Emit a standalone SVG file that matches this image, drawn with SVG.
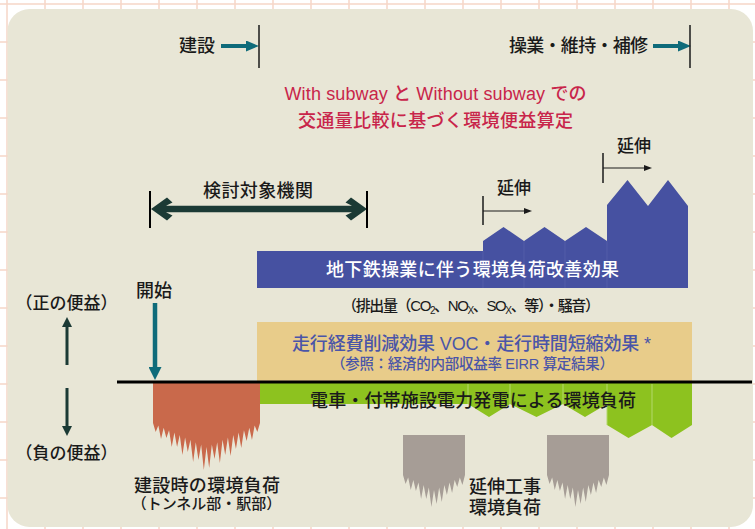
<svg xmlns="http://www.w3.org/2000/svg" width="755" height="529" viewBox="0 0 755 529">
<style>
text{font-family:"Liberation Sans","Noto Sans CJK JP",sans-serif;fill:#1a1a1a;font-weight:500}
.t18{font-size:18px}
.t17{font-size:17px}
.t15{font-size:15px}
.red{fill:#c8254a;font-size:18px}
.pur{fill:#4a55a8}
.wht{fill:#ffffff}
.grid{stroke:#f6d6c8;stroke-width:1.5}
.sep{stroke:#5660ab;stroke-width:0.8}
.gsep{stroke:#b4d86c;stroke-width:1}
.tick{stroke:#1a1a1a;stroke-width:1.5}
</style>
<defs>
<marker id="hTeal" markerUnits="userSpaceOnUse" markerWidth="13" markerHeight="11" refX="0" refY="5.5" orient="auto"><path d="M0,0 L13,5.5 L0,11 z" fill="#0e6b7a"/></marker>
<marker id="hTealV" markerUnits="userSpaceOnUse" markerWidth="13" markerHeight="13" refX="0" refY="6.5" orient="auto"><path d="M0,0 L13,6.5 L0,13 z" fill="#0e6b7a"/></marker>
<marker id="hDark" markerUnits="userSpaceOnUse" markerWidth="10" markerHeight="10" refX="0" refY="5" orient="auto"><path d="M0,0 L10,5 L0,10 z" fill="#1b3a35"/></marker>
<marker id="hSmall" markerUnits="userSpaceOnUse" markerWidth="8" markerHeight="6" refX="0" refY="3" orient="auto"><path d="M0,0 L8,3 L0,6 z" fill="#1a1a1a"/></marker>
<path id="grayFringe" fill="#a69d96" d="M403,435 V475 l2.583,9 l2.583,-6.5 l2.583,12.5 l2.583,-10 l2.583,11 l2.583,-8.5 l2.583,16.5 l2.583,-14 l2.583,14 l2.583,-11.5 l2.583,19.5 l2.583,-17 l2.583,14 l2.583,-16.5 l2.583,14.5 l2.583,-17 l2.583,10 l2.583,-12.5 l2.583,10.5 l2.583,-13 l2.583,7 l2.583,-9.5 l2.583,7.5 l2.583,-10 V435 Z"/>
</defs>

<g id="background">
<rect width="755" height="529" fill="#ffffff"/>
<g class="grid">
<path d="M7,0V529M45,0V529M83,0V529M121,0V529M159,0V529M197,0V529M235,0V529M273,0V529M311,0V529M349,0V529M387,0V529M425,0V529M463,0V529M501,0V529M539,0V529M577,0V529M615,0V529M653,0V529M691,0V529M729,0V529"/>
<path d="M0,4H755M0,42H755M0,80H755M0,118H755M0,156H755M0,194H755M0,232H755M0,270H755M0,308H755M0,346H755M0,384H755M0,422H755M0,460H755M0,498H755"/>
</g>
<rect x="7.5" y="9" width="745.5" height="518" rx="22" fill="#e8e6d6"/>
</g>

<g id="improvement-band">
<path fill="#4651a1" d="M257,251 H483 V241 L503.5,227 L524,241 L544.5,227 L565,241 L586,227 L607,241 V205 L627.5,180 L648,206 L668,180 L688,206 V288 H257 Z"/>
<path class="sep" d="M483,251V288M524,241V288M565,241V288M607,241V288"/>
<text class="t18 wht" x="472.5" y="276" text-anchor="middle" textLength="293">地下鉄操業に伴う環境負荷改善効果</text>
<text class="t15" x="471" y="311" text-anchor="middle" textLength="258">（排出量（CO<tspan font-size="10" dy="3">2</tspan><tspan dy="-3">、NO</tspan><tspan font-size="10" dy="3">X</tspan><tspan dy="-3">、SO</tspan><tspan font-size="10" dy="3">X</tspan><tspan dy="-3">、等）・騒音）</tspan></text>
</g>

<g id="cost-band">
<rect x="257" y="322" width="435" height="59" fill="#e8cc8a"/>
<text class="t18 pur" x="471.5" y="350" text-anchor="middle" textLength="359">走行経費削減効果 VOC・走行時間短縮効果 *</text>
<text class="pur" font-size="14.5" x="472.5" y="369" text-anchor="middle" textLength="283">（参照：経済的内部収益率 EIRR 算定結果）</text>
</g>

<g id="power-band">
<path fill="#8dc21f" d="M260,383 H692 V425 L671.5,438 L652,425 L628.5,438 L607,425 V404 L585,417 L563,404 L536.5,417 L510,404 L489,417 L468,404 H260 Z"/>
<path class="gsep" d="M468,384V404M510,384V404M563,384V404M607,384V425M652,384V425"/>
</g>

<g id="construction-load">
<path fill="#c9694b" d="M153,383 V423 l2.675,9 l2.675,-6.6 l2.675,13.6 l2.675,-11.2 l2.675,10.2 l2.675,-7.8 l2.675,16.8 l2.675,-14.4 l2.675,14.4 l2.675,-12 l2.675,20 l2.675,-17.6 l2.675,14.6 l2.675,-12.2 l2.675,22.2 l2.675,-19.8 l2.675,17.8 l2.675,-15.4 l2.675,25.4 l2.675,-23 l2.675,21 l2.675,-23.4 l2.675,14.4 l2.675,-16.8 l2.675,20.8 l2.675,-23.2 l2.675,15.2 l2.675,-17.6 l2.675,18.6 l2.675,-21 l2.675,14 l2.675,-16.4 l2.675,15.4 l2.675,-17.8 l2.675,10.8 l2.675,-13.2 l2.675,12.2 l2.675,-14.6 l2.675,6.6 l2.675,-9 V383 Z"/>
<text class="t18" x="207" y="492" text-anchor="middle" textLength="146">建設時の環境負荷</text>
<text class="t15" x="206.5" y="509" text-anchor="middle">（トンネル部・駅部）</text>
</g>

<g id="extension-load">
<use href="#grayFringe"/>
<use href="#grayFringe" x="144"/>
<text class="t18" x="469" y="493">延伸工事</text>
<text class="t18" x="469" y="514">環境負荷</text>
</g>

<g id="axis-line">
<line x1="117" y1="382" x2="752" y2="382" stroke="#000" stroke-width="3"/>
</g>

<g id="phase-labels">
<text class="t18" font-size="17.5" x="179" y="52">建設</text>
<text class="t18" font-size="17.5" x="509" y="52" textLength="139">操業・維持・補修</text>
<text class="red" x="435.5" y="100" text-anchor="middle" textLength="302">With subway と Without subway での</text>
<text class="red" x="435.5" y="127" text-anchor="middle" textLength="275">交通量比較に基づく環境便益算定</text>
<text class="t17" x="617" y="152">延伸</text>
<text class="t17" x="497" y="194">延伸</text>
<text class="t18" x="258" y="197" text-anchor="middle" textLength="110">検討対象機関</text>
<text class="t18" x="136" y="297">開始</text>
<text class="t17" x="66.5" y="309" text-anchor="middle">（正の便益）</text>
<text class="t17" x="66.5" y="459" text-anchor="middle">（負の便益）</text>
</g>

<g id="connectors">
<line x1="221" y1="46" x2="246" y2="46" stroke="#0e6b7a" stroke-width="4" marker-end="url(#hTeal)"/>
<line class="tick" x1="259" y1="25" x2="259" y2="68"/>
<line x1="653" y1="46" x2="678" y2="46" stroke="#0e6b7a" stroke-width="4" marker-end="url(#hTeal)"/>
<line class="tick" x1="690" y1="25" x2="690" y2="68"/>
<line class="tick" x1="603" y1="153" x2="603" y2="183" stroke-width="1.2"/>
<line x1="603" y1="168" x2="644" y2="168" stroke="#1a1a1a" stroke-width="1.2" marker-end="url(#hSmall)"/>
<line class="tick" x1="483" y1="196" x2="483" y2="225" stroke-width="1.2"/>
<line x1="483" y1="211" x2="524" y2="211" stroke="#1a1a1a" stroke-width="1.2" marker-end="url(#hSmall)"/>
<path fill="#1b3a35" d="M151,209 L167,197.5 L172.5,202.5 L166,205.7 L352,205.7 L345.5,202.5 L351,197.5 L367,209 L351,220.5 L345.5,215.5 L352,212.3 L166,212.3 L172.5,215.5 L167,220.5 Z"/>
<line x1="150" y1="191" x2="150" y2="228" stroke="#000" stroke-width="2"/>
<line x1="367" y1="191" x2="367" y2="228" stroke="#000" stroke-width="2"/>
<line x1="155" y1="303" x2="155" y2="367" stroke="#0e6b7a" stroke-width="4.5" marker-end="url(#hTealV)"/>
<line x1="67" y1="365" x2="67" y2="327" stroke="#1b3a35" stroke-width="3" marker-end="url(#hDark)"/>
<line x1="67" y1="388" x2="67" y2="426" stroke="#1b3a35" stroke-width="3" marker-end="url(#hDark)"/>
</g>

<g id="power-label">
<text class="t18" x="473" y="407" text-anchor="middle" textLength="326">電車・付帯施設電力発電による環境負荷</text>
</g>
</svg>
